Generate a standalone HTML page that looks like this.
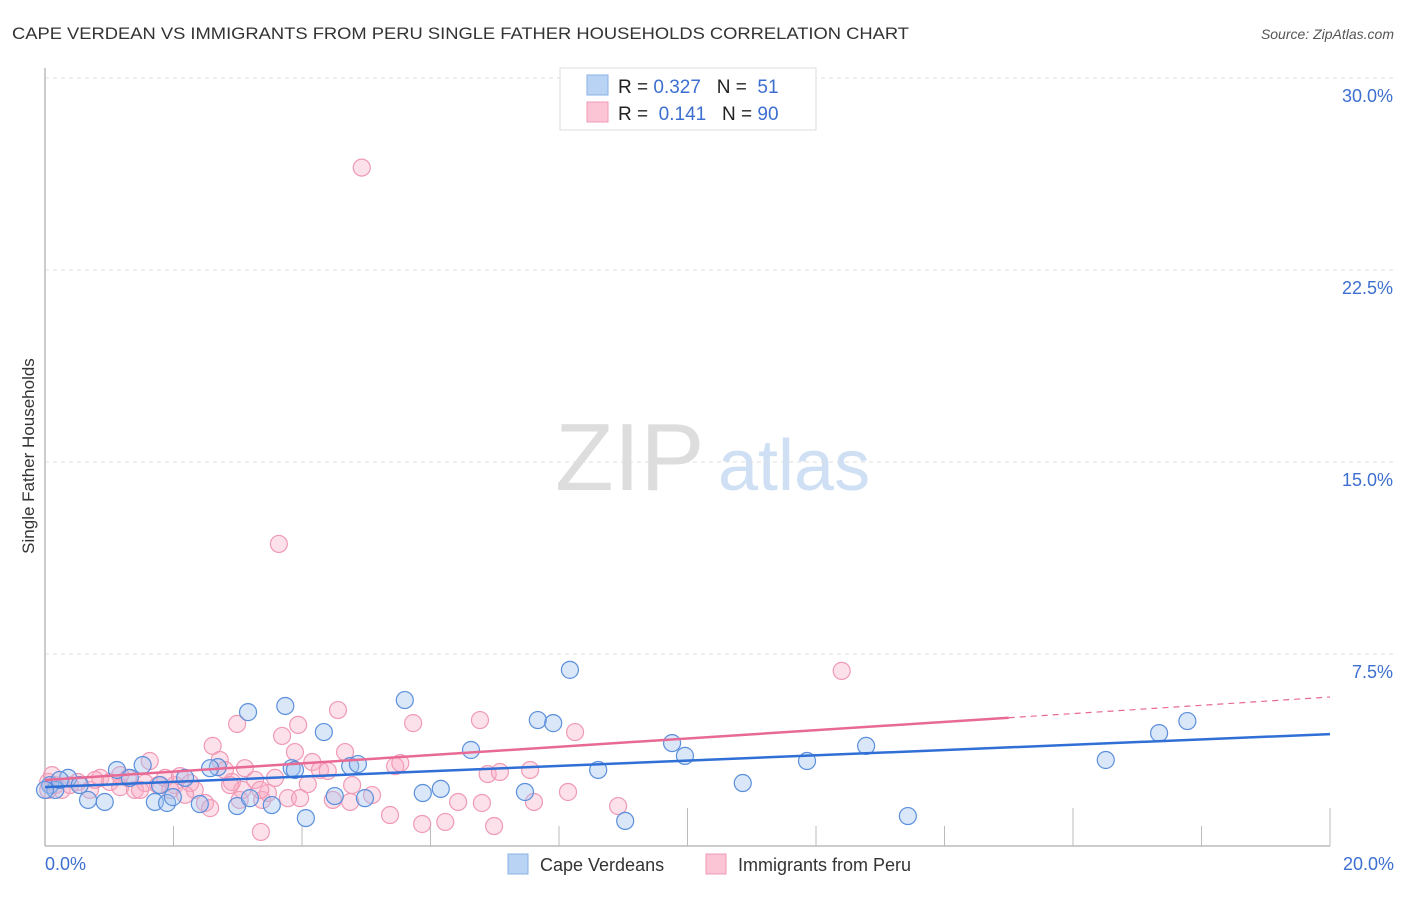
<!DOCTYPE html>
<html><head><meta charset="utf-8"><style>
body{margin:0;background:#fff;font-family:"Liberation Sans",sans-serif;}
svg text{font-family:"Liberation Sans",sans-serif;white-space:pre;}
</style></head><body>
<svg id="c" width="1406" height="892" xmlns="http://www.w3.org/2000/svg">
<text x="12" y="39" font-size="17" fill="#333" textLength="897" lengthAdjust="spacingAndGlyphs">CAPE VERDEAN VS IMMIGRANTS FROM PERU SINGLE FATHER HOUSEHOLDS CORRELATION CHART</text>
<text x="1394" y="39" font-size="14" fill="#555" font-style="italic" text-anchor="end">Source: ZipAtlas.com</text>
<text transform="translate(34,456) rotate(-90)" font-size="17" fill="#333" text-anchor="middle">Single Father Households</text>
<g>
<text x="555" y="490" font-size="96" fill="#ddd" font-family="Liberation Serif,serif">ZIP</text>
<text x="718" y="490" font-size="72" fill="#cfe0f5">atlas</text>
</g>
<g id="grid"></g><g id="marks"></g>
<g>
<rect x="560" y="68" width="256" height="62" fill="#fff" stroke="#ddd"/>
<rect x="587" y="75" width="21" height="20" fill="#b9d3f5" stroke="#8ab0e6"/>
<rect x="587" y="102" width="21" height="20" fill="#fbc5d5" stroke="#f09ab5"/>
<text x="618" y="93" font-size="19" fill="#222" xml:space="preserve">R = <tspan fill="#3d6fd0">0.327</tspan>   N =  <tspan fill="#3d6fd0">51</tspan></text>
<text x="618" y="120" font-size="19" fill="#222" xml:space="preserve">R =  <tspan fill="#3d6fd0">0.141</tspan>   N = <tspan fill="#3d6fd0">90</tspan></text>
</g>
<g>
<rect x="508" y="854" width="20" height="20" fill="#b9d3f5" stroke="#8ab0e6"/>
<text x="540" y="871" font-size="18" fill="#333">Cape Verdeans</text>
<rect x="706" y="854" width="20" height="20" fill="#fbc5d5" stroke="#f09ab5"/>
<text x="738" y="871" font-size="18" fill="#333">Immigrants from Peru</text>
</g>
</svg>
<script>
const xTicks=[0,2,4,6,8,10,12,14,16,18,20];
const yTicks=[7.5,15,22.5,30];
const blueX=[0.08,0.16,0.36,0.67,0.93,1.12,1.52,1.71,1.90,1.99,2.18,2.41,2.69,2.99,3.16,3.19,3.53,3.74,3.84,4.06,4.34,4.51,4.75,4.87,4.98,5.60,5.88,6.16,6.63,7.47,7.67,7.91,8.17,8.61,9.03,9.76,9.96,10.86,11.86,12.78,13.43,16.51,17.34,17.78,0.23,0.54,1.32,2.57,3.89,1.79,0.0];
const blueY=[2.38,2.19,2.66,1.80,1.72,2.97,3.16,1.72,1.68,1.91,2.66,1.64,3.08,1.56,5.23,1.87,1.60,5.47,3.04,1.09,4.45,1.95,3.12,3.20,1.87,5.70,2.07,2.23,3.75,2.11,4.92,4.80,6.88,2.97,0.98,4.02,3.52,2.46,3.32,3.91,1.17,3.36,4.41,4.88,2.58,2.38,2.66,3.04,2.97,2.38,2.19];
const pinkX=[0.05,0.16,0.26,0.39,0.51,0.70,0.86,1.01,1.17,1.29,1.40,1.56,1.63,1.76,1.87,2.02,2.10,2.26,2.33,2.49,2.57,2.61,2.72,2.80,2.91,2.99,3.07,3.11,3.27,3.38,3.36,3.47,3.58,3.64,3.69,3.78,3.89,3.94,4.09,4.16,4.28,4.40,4.48,4.56,4.67,4.75,4.78,4.93,5.09,5.37,5.45,5.53,5.73,5.87,6.23,6.43,6.77,6.80,6.89,6.99,7.08,7.55,7.61,8.14,8.25,8.92,12.40,0.05,0.11,1.48,1.95,2.88,2.18,3.97,3.35,1.17,0.78,3.03];
const pinkY=[2.50,2.38,2.19,2.38,2.50,2.19,2.66,2.50,2.30,2.66,2.19,2.46,3.32,2.38,2.66,2.38,2.73,2.46,2.19,1.68,1.48,3.91,3.36,2.97,2.50,4.77,2.19,3.04,2.58,1.80,0.55,2.07,2.66,11.8,4.30,1.87,3.67,4.73,2.42,3.28,2.97,2.93,1.80,5.31,3.67,1.72,2.38,26.5,1.99,1.21,3.12,3.24,4.80,0.86,0.94,1.72,4.92,1.68,2.81,0.78,2.89,2.97,1.72,2.11,4.45,1.56,6.84,2.19,2.77,2.19,2.19,2.38,2.00,1.87,2.19,2.77,2.58,1.80];
const blueFit=[2.30,4.37];
const pinkFit=[2.58,0.162];
const ns="http://www.w3.org/2000/svg";
const X=v=>45+v*64.25, Y=v=>846-v*25.6;
function mk(t,a,p){const e=document.createElementNS(ns,t);for(const k in a)e.setAttribute(k,a[k]);p.appendChild(e);return e;}
const g=document.getElementById('grid'),m=document.getElementById('marks');
yTicks.forEach(v=>{const l=mk('line',{x1:45,x2:1393,y1:Y(v),y2:Y(v),stroke:'#ddd','stroke-dasharray':'4,4'},g);


const t=mk('text',{x:1393,y:Y(v)+24,'font-size':18,fill:'#3d6fd0','text-anchor':'end'},g);t.textContent=v.toFixed(1)+'%';

});
const ax=mk('line',{x1:45,x2:1330,y1:846,y2:846,stroke:'#bbb','stroke-width':1.5},g);


const ay=mk('line',{x1:45,x2:45,y1:68,y2:846,stroke:'#bbb','stroke-width':1.5},g);


xTicks.forEach((v,i)=>{const long=(i===5||i===8||i===10);const l=mk('line',{x1:X(v),x2:X(v),y1:long?808:826,y2:846,stroke:'#bbb'},g);

});
[[0,'0.0%','start',45],[20,'20.0%','end',1394]].forEach(d=>{const t=mk('text',{x:d[3],y:870,'font-size':18,fill:'#3d6fd0','text-anchor':d[2]},g);t.textContent=d[1];

});
pinkX.forEach((x,i)=>{const c=mk('circle',{cx:X(x),cy:Y(pinkY[i]),r:8.5,fill:'rgba(248,170,195,0.35)',stroke:'#f09ab5','stroke-width':1.2},m);

});
blueX.forEach((x,i)=>{const c=mk('circle',{cx:X(x),cy:Y(blueY[i]),r:8.5,fill:'rgba(160,195,240,0.4)',stroke:'#5b8fdc','stroke-width':1.2},m);

});
const bl=mk('line',{x1:X(0),y1:Y(blueFit[0]),x2:X(20),y2:Y(blueFit[1]),stroke:'#2f6fd6','stroke-width':2.5},m);


const pl=mk('line',{x1:X(0),y1:Y(pinkFit[0]),x2:X(15),y2:Y(pinkFit[0]+15*pinkFit[1]),stroke:'#e86a94','stroke-width':2.5},m);


const pd=mk('line',{x1:X(15),y1:Y(pinkFit[0]+15*pinkFit[1]),x2:X(20),y2:Y(pinkFit[0]+20*pinkFit[1]),stroke:'#e86a94','stroke-width':1.2,'stroke-dasharray':'6,5'},m);


</script>
</body></html>
